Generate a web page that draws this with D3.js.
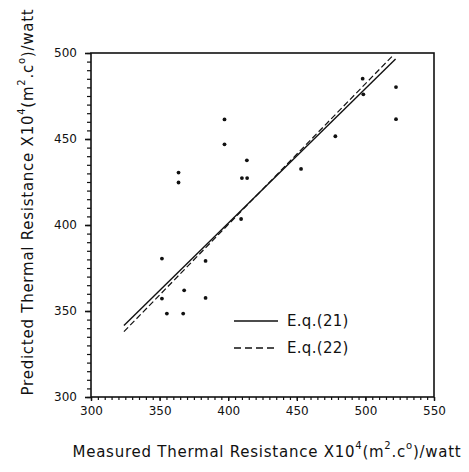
<!DOCTYPE html>
<html>
<head>
<meta charset="utf-8">
<script src="https://cdn.jsdelivr.net/npm/d3@7.9.0/dist/d3.min.js"></script>
<style>
  body { margin: 0; background: #fff; }
  text { font-family: "DejaVu Sans", sans-serif; fill: #111; }
</style>
</head>
<body>
<div id="chart"></div>
<script>
// measured vs predicted points
const measured = [397.3, 397.3, 363.8, 363.8, 413.6, 410.0, 413.8, 409.4,
  351.7, 383.5, 367.9, 351.7, 383.5, 355.3, 367.2,
  498.0, 522.3, 522.3, 478.1, 453.1, 498.5];
const predicted = [461.4, 446.9, 430.5, 424.7, 437.6, 427.3, 427.3, 403.5,
  380.5, 379.1, 362.0, 357.2, 357.6, 348.5, 348.5,
  485.1, 480.2, 461.5, 451.6, 432.6, 476.0];

// fitted lines, [x, y] at both ends
const eq21 = [[324, 341.5], [522, 496.5]];
const eq22 = [[324, 338.0], [520, 498.5]];

const xTicks = [300, 350, 400, 450, 500, 550];
const yTicks = [300, 350, 400, 450, 500];

const width = 469, height = 472;
const margin = { top: 53, right: 35, bottom: 75, left: 91 };

const svg = d3.select('#chart').append('svg')
  .attr('width', width)
  .attr('height', height);

const x = d3.scaleLinear().domain([300, 550]).range([margin.left, width - margin.right]);
const y = d3.scaleLinear().domain([300, 500]).range([height - margin.bottom, margin.top]);

// frame
svg.append('rect')
  .attr('x', x(300)).attr('y', y(500))
  .attr('width', x(550) - x(300)).attr('height', y(300) - y(500))
  .attr('fill', 'none').attr('stroke', '#111').attr('stroke-width', 1.6);

// minor ticks every 5
const xMinor = d3.range(300, 551, 5);
const yMinor = d3.range(300, 501, 5);

const xAxis = svg.append('g')
  .attr('transform', `translate(0,${y(300)})`)
  .call(d3.axisBottom(x).tickValues(xMinor).tickSize(3).tickFormat(''));
xAxis.select('.domain').remove();
xAxis.selectAll('line').attr('stroke', '#111').attr('stroke-width', 1.2);

svg.append('g')
  .attr('transform', `translate(0,${y(300)})`)
  .call(d3.axisBottom(x).tickValues(xTicks).tickSize(4).tickPadding(5))
  .call(g => g.select('.domain').remove())
  .call(g => g.selectAll('line').attr('stroke', '#111').attr('stroke-width', 1.4))
  .call(g => g.selectAll('text').style('font-size', '12px').attr('fill', '#111'));

const yAxis = svg.append('g')
  .attr('transform', `translate(${x(300)},0)`)
  .call(d3.axisLeft(y).tickValues(yMinor).tickSize(4).tickFormat(''));
yAxis.select('.domain').remove();
yAxis.selectAll('line').attr('stroke', '#111').attr('stroke-width', 1.2);

svg.append('g')
  .attr('transform', `translate(${x(300)},0)`)
  .call(d3.axisLeft(y).tickValues(yTicks).tickSize(6).tickPadding(8))
  .call(g => g.select('.domain').remove())
  .call(g => g.selectAll('line').attr('stroke', '#111').attr('stroke-width', 1.6))
  .call(g => g.selectAll('text').style('font-size', '12px').attr('fill', '#111'));

// lines
const line = d3.line().x(d => x(d[0])).y(d => y(d[1]));
svg.append('path').attr('d', line(eq21))
  .attr('fill', 'none').attr('stroke', '#111').attr('stroke-width', 1.4);
svg.append('path').attr('d', line(eq22))
  .attr('fill', 'none').attr('stroke', '#111').attr('stroke-width', 1.2)
  .attr('stroke-dasharray', '6,3');

// points
svg.selectAll('.pt')
  .data(measured.map((m, i) => [m, predicted[i]]))
  .enter().append('circle')
  .attr('class', 'pt')
  .attr('cx', d => x(d[0]))
  .attr('cy', d => y(d[1]))
  .attr('r', 1.9)
  .attr('fill', '#111');

// legend
const legend = [
  { label: 'E.q.(21)', dash: null },
  { label: 'E.q.(22)', dash: '7,4' }
];
legend.forEach((d, i) => {
  const ly = 321 + i * 27;
  svg.append('line')
    .attr('x1', 234).attr('x2', 278).attr('y1', ly).attr('y2', ly)
    .attr('stroke', '#111').attr('stroke-width', 1.4)
    .attr('stroke-dasharray', d.dash);
  svg.append('text')
    .attr('x', 287).attr('y', ly)
    .attr('dy', '0.35em')
    .style('font-size', '15px')
    .style('letter-spacing', '0.3px')
    .text(d.label);
});

// axis titles with superscripts
function title(sel, prefix) {
  sel.append('tspan').text(prefix + ' X10');
  sel.append('tspan').attr('dy', -8).style('font-size', '10px').text('4');
  sel.append('tspan').attr('dy', 8).text('(m');
  sel.append('tspan').attr('dy', -8).style('font-size', '10px').text('2');
  sel.append('tspan').attr('dy', 8).text('.c');
  sel.append('tspan').attr('dy', -8).style('font-size', '10px').text('o');
  sel.append('tspan').attr('dy', 8).text(')/watt');
}

svg.append('text')
  .attr('x', 267).attr('y', 457)
  .attr('text-anchor', 'middle')
  .style('font-size', '15px')
  .style('letter-spacing', '0.75px')
  .call(title, 'Measured Thermal Resistance');

svg.append('text')
  .attr('transform', 'translate(33,202) rotate(-90)')
  .attr('text-anchor', 'middle')
  .style('font-size', '15px')
  .style('letter-spacing', '0.75px')
  .call(title, 'Predicted Thermal Resistance');
</script>
</body>
</html>
